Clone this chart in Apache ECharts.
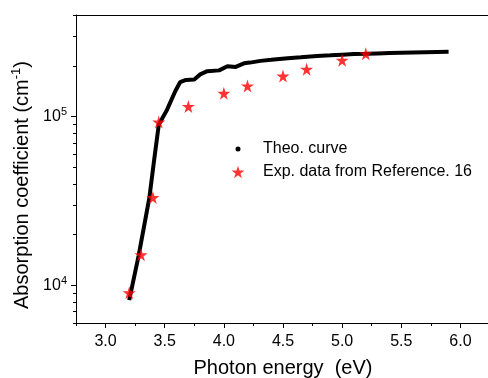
<!DOCTYPE html>
<html>
<head>
<meta charset="utf-8">
<title>Absorption coefficient</title>
<script src="https://cdn.jsdelivr.net/npm/echarts@6.0.0/dist/echarts.min.js"></script>
<style>
  html, body { margin: 0; padding: 0; background: #fff; }
  #chart { width: 488px; height: 378px; }
</style>
</head>
<body>
<div id="chart"></div>
<script>
// theoretical curve (photon energy in eV, absorption in cm^-1)
var theoX = [3.20, 3.28, 3.37, 3.41, 3.45, 3.52, 3.59, 3.63, 3.68, 3.75, 3.80, 3.86, 3.96,
             4.03, 4.10, 4.17, 4.22, 4.31, 4.40, 4.54, 4.65, 4.79, 4.90, 5.00, 5.10, 5.21,
             5.30, 5.40, 5.50, 5.60, 5.70, 5.80, 5.90];
var theoY = [8200, 15100, 33000, 55000, 90000, 110000, 142000, 160000, 165000, 166000, 178000,
             186000, 188000, 199000, 197000, 207000, 209000, 214000, 217000, 222000, 225000,
             229000, 231000, 233000, 235000, 236000, 237000, 238000, 239000, 240000, 241000,
             241500, 242000];

// experimental points
var expX = [3.20, 3.30, 3.40, 3.45, 3.70, 4.00, 4.20, 4.50, 4.70, 5.00, 5.20];
var expY = [9050, 15200, 33200, 93000, 115000, 137500, 152000, 174000, 191000, 216000, 236000];

var xMajor = [3.0, 3.5, 4.0, 4.5, 5.0, 5.5, 6.0];
var xMinor = [2.75, 3.25, 3.75, 4.25, 4.75, 5.25, 5.75, 6.25];
var yMajor = [10000, 100000];
var yMinor = [6000, 7000, 8000, 9000, 20000, 30000, 40000, 50000, 60000, 70000, 80000, 90000,
              200000, 300000, 400000];

var starPath = 'path://M50,0 L61,35 L98,35 L68,57 L79,91 L50,70 L21,91 L32,57 L2,35 L39,35 Z';
var font = 'Liberation Sans';

function pairs(xs, ys) {
  var out = [];
  for (var i = 0; i < xs.length; i++) out.push([xs[i], ys[i]]);
  return out;
}

var chart = echarts.init(document.getElementById('chart'));
chart.setOption({
  animation: false,
  textStyle: { fontFamily: font, color: '#000' },
  grid: { left: 76, right: -2, top: 15, bottom: 55, outerBoundsMode: 'none', containLabel: false },
  legend: [
    {
      data: [{ name: 'Theo. curve', icon: 'circle' }],
      left: 235.5, top: 141, padding: 0, itemWidth: 5, itemHeight: 5,
      textStyle: { fontFamily: font, fontSize: 16, color: '#000', padding: [0, 0, 0, 17.5] }
    },
    {
      data: [{ name: 'Exp. data from Reference. 16', icon: starPath }],
      left: 231.5, top: 164, padding: 0, itemWidth: 13, itemHeight: 13,
      textStyle: { fontFamily: font, fontSize: 16, color: '#000', padding: [0, 0, 0, 13.5] }
    }
  ],
  xAxis: [
    {
      type: 'value', min: 2.75, max: 6.25,
      name: 'Photon energy  (eV)', nameLocation: 'middle', nameGap: 35,
      nameTextStyle: { fontSize: 20, color: '#000', fontFamily: font },
      axisLine: { show: true, lineStyle: { color: '#000', width: 1 } },
      axisTick: { show: true, length: 5, customValues: xMajor, lineStyle: { color: '#000' } },
      axisLabel: { customValues: xMajor, fontSize: 16, color: '#000', margin: 11,
                   formatter: function (v) { return v.toFixed(1); } },
      splitLine: { show: false }
    },
    {
      type: 'value', min: 2.75, max: 6.25, position: 'bottom',
      axisLine: { show: false },
      axisTick: { show: true, length: 3, customValues: xMinor, lineStyle: { color: '#000' } },
      axisLabel: { show: false },
      splitLine: { show: false }
    },
    {
      type: 'value', min: 2.75, max: 6.25, position: 'top',
      axisLine: { show: true, lineStyle: { color: '#000', width: 1 } },
      axisTick: { show: false },
      axisLabel: { show: false },
      splitLine: { show: false }
    }
  ],
  yAxis: [
    {
      type: 'log', logBase: 10, min: 6000, max: 400000,
      name: '{t|Absorption coefficient (cm}{s|-1}{t|)}', nameLocation: 'middle', nameGap: 40,
      nameTextStyle: {
        padding: [0, 32, 0, 0],
        rich: {
          t: { fontSize: 20, color: '#000', fontFamily: font },
          s: { fontSize: 13, color: '#000', fontFamily: font, padding: [0, 0, 12, 0] }
        }
      },
      axisLine: { show: true, lineStyle: { color: '#000', width: 1 } },
      axisTick: { show: true, length: 5, customValues: yMajor, lineStyle: { color: '#000' } },
      axisLabel: {
        customValues: yMajor, margin: 9,
        formatter: function (v) { return '{b|10}{s|' + Math.round(Math.log10(v)) + '}'; },
        rich: {
          b: { fontSize: 16, color: '#000', fontFamily: font },
          s: { fontSize: 11, color: '#000', fontFamily: font, padding: [0, 0, 10, 0] }
        }
      },
      splitLine: { show: false }
    },
    {
      type: 'log', logBase: 10, min: 6000, max: 400000, position: 'left',
      axisLine: { show: false },
      axisTick: { show: true, length: 3, customValues: yMinor, lineStyle: { color: '#000' } },
      axisLabel: { show: false },
      splitLine: { show: false }
    }
  ],
  series: [
    {
      name: 'Theo. curve', type: 'line', data: pairs(theoX, theoY),
      showSymbol: false, symbol: 'circle',
      lineStyle: { color: '#000', width: 4 }, itemStyle: { color: '#000' }, z: 2
    },
    {
      name: 'Exp. data from Reference. 16', type: 'scatter', data: pairs(expX, expY),
      symbol: starPath, symbolSize: 13,
      itemStyle: { color: '#ff0000' }, z: 3
    }
  ]
});
</script>
</body>
</html>
